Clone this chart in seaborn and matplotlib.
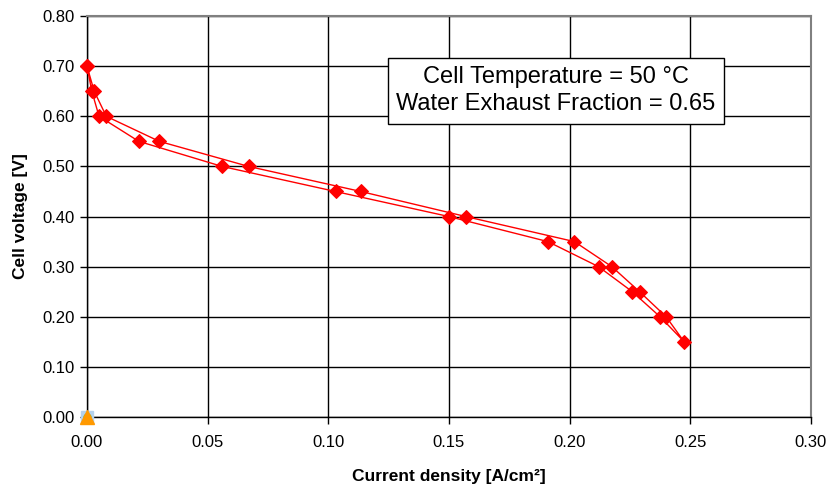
import numpy as np
import pandas as pd
import matplotlib
matplotlib.use('Agg')
import matplotlib.pyplot as plt
import seaborn as sns

# polarization sweep: forward (higher current) then back
current_fwd = [0.0, 0.003, 0.008, 0.030, 0.067, 0.1135, 0.157, 0.202, 0.2175, 0.229, 0.240, 0.2475]
voltage_fwd = [0.70, 0.65, 0.60, 0.55, 0.50, 0.45, 0.40, 0.35, 0.30, 0.25, 0.20, 0.15]
current_back = [0.2375, 0.226, 0.212, 0.191, 0.150, 0.103, 0.056, 0.0215, 0.005, 0.002, 0.0]
voltage_back = [0.20, 0.25, 0.30, 0.35, 0.40, 0.45, 0.50, 0.55, 0.60, 0.65, 0.70]

x_ticks = [0.00, 0.05, 0.10, 0.15, 0.20, 0.25, 0.30]
y_ticks = [0.00, 0.10, 0.20, 0.30, 0.40, 0.50, 0.60, 0.70, 0.80]

df = pd.DataFrame({
    'current': current_fwd + current_back,
    'voltage': voltage_fwd + voltage_back,
})

sns.set_style("white")
plt.rcParams['font.family'] = ['Liberation Sans', 'DejaVu Sans']
plt.rcParams['text.color'] = 'black'
plt.rcParams['axes.labelcolor'] = 'black'
plt.rcParams['xtick.color'] = 'black'
plt.rcParams['ytick.color'] = 'black'

fig = plt.figure(figsize=(8.3, 4.88), dpi=100)
ax = fig.add_axes([0.1048, 0.1455, 0.8722, 0.8215])

sns.lineplot(data=df, x='current', y='voltage', sort=False, estimator=None,
             color='red', marker='D', markersize=7, markeredgecolor='red',
             linewidth=1, ax=ax, zorder=6, clip_on=False)

# empty series sitting at the origin
ax.plot([0], [0], marker='s', color='#b4d2ee', markersize=9, linestyle='none', zorder=7, clip_on=False)
ax.plot([0], [0], marker='o', color='#6fb43f', markersize=5, linestyle='none', zorder=8, clip_on=False)
ax.plot([0], [0], marker='^', color='#ff9900', markersize=10, linestyle='none', zorder=9, clip_on=False)

ax.set_xlim(0, 0.30)
ax.set_ylim(0, 0.80)
ax.set_xticks(x_ticks)
ax.set_yticks(y_ticks)
ax.set_xticklabels([f"{t:.2f}" for t in x_ticks], fontsize=12)
ax.set_yticklabels([f"{t:.2f}" for t in y_ticks], fontsize=12)
ax.grid(True, color='black', linewidth=1)
ax.set_axisbelow(True)

for side in ['top', 'right']:
    ax.spines[side].set_color('#808080')
    ax.spines[side].set_linewidth(1.5)
for side in ['left', 'bottom']:
    ax.spines[side].set_color('black')
    ax.spines[side].set_linewidth(1)

ax.tick_params(axis='x', direction='out', length=5, width=1, color='black', bottom=True, pad=8)
ax.tick_params(axis='y', direction='out', length=5, width=1, color='black', left=True, pad=4)

ax.set_xlabel('Current density [A/cm²]', fontsize=12.5, fontweight='bold', labelpad=14)
ax.set_ylabel('Cell voltage [V]', fontsize=12.5, fontweight='bold', labelpad=10)

ax.text(0.1944, 0.651, 'Cell Temperature = 50 °C\nWater Exhaust Fraction = 0.65',
        ha='center', va='center', fontsize=17, linespacing=1.3, zorder=10,
        bbox=dict(boxstyle='square,pad=0.35', facecolor='white', edgecolor='black', linewidth=1))

fig.savefig('out.png', dpi=100)
